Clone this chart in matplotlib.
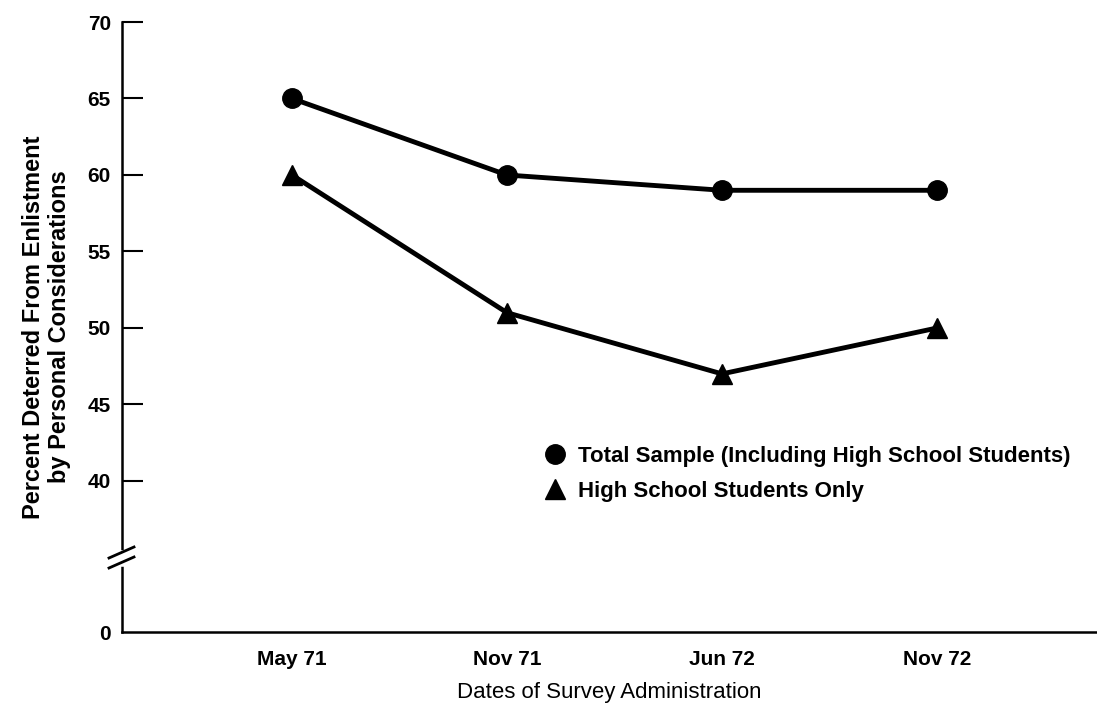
import numpy as np
import matplotlib
matplotlib.use('Agg')
import matplotlib.pyplot as plt
from matplotlib.lines import Line2D

plt.rcParams['font.family'] = ['Liberation Sans', 'DejaVu Sans']

dates = ['May 71', 'Nov 71', 'Jun 72', 'Nov 72']
total_sample = [65, 60, 59, 59]
high_school = [60, 51, 47, 50]
y_ticks = [0, 40, 45, 50, 55, 60, 65, 70]

# broken y axis: 0-40 squeezed into the bottom strip
squeeze = 9.87 / 40.0


def forward(y):
    y = np.asarray(y, dtype=float)
    return np.where(y >= 40, y, 40 - (40 - y) * squeeze)


def inverse(v):
    v = np.asarray(v, dtype=float)
    return np.where(v >= 40, v, 40 - (40 - v) / squeeze)


fig = plt.figure(figsize=(10.97, 7.08), dpi=100)
ax = fig.add_axes([122 / 1097, 76 / 708, 975 / 1097, 610 / 708])
ax.set_yscale('function', functions=(forward, inverse))

x = np.arange(len(dates))
ax.plot(x, total_sample, color='black', lw=3.5, marker='o', ms=14,
        label='Total Sample (Including High School Students)')
ax.plot(x, high_school, color='black', lw=3.5, marker='^', ms=15,
        label='High School Students Only')

ax.set_xlim(-170 / 215, 805 / 215)
ax.set_ylim(0, 70)
ax.set_yticks(y_ticks)
ax.set_yticklabels([str(t) for t in y_ticks], fontsize=15, fontweight='bold')
ax.set_xticks(x)
ax.set_xticklabels(dates, fontsize=15, fontweight='bold')
ax.tick_params(axis='y', direction='in', length=15, width=1.5, pad=8)
ax.tick_params(axis='x', length=0, pad=13)
ax.yaxis.get_major_ticks()[0].tick1line.set_visible(False)

for s in ['top', 'right']:
    ax.spines[s].set_visible(False)
for s in ['left', 'bottom']:
    ax.spines[s].set_linewidth(1.8)

ax.set_ylabel('Percent Deterred From Enlistment\nby Personal Considerations',
              fontsize=17, fontweight='bold', labelpad=12, linespacing=1.15)
ax.set_xlabel('Dates of Survey Administration', fontsize=16, labelpad=9)

# axis break marks
px, py = 1 / 975, 1 / 610
ax.plot([0, 0], [68 * py, 79 * py], color='white', lw=4,
        transform=ax.transAxes, clip_on=False, zorder=5)
for y0 in [74 * py, 64 * py]:
    ax.plot([-13 * px, 12 * px], [y0, y0 + 11 * py], color='black', lw=2,
            transform=ax.transAxes, clip_on=False, zorder=6)

handles = [Line2D([], [], color='black', marker='o', ms=14, ls='none'),
           Line2D([], [], color='black', marker='^', ms=15, ls='none')]
labels = ['Total Sample (Including High School Students)',
          'High School Students Only']
leg = ax.legend(handles, labels, loc='center left', frameon=False,
                bbox_to_anchor=(544 / 1097, 1 - 474 / 708),
                bbox_transform=fig.transFigure, borderpad=0, borderaxespad=0,
                handlelength=1.0, handletextpad=0.55, labelspacing=0.62,
                prop={'size': 16, 'weight': 'bold'})

fig.savefig('out.png', dpi=100)
